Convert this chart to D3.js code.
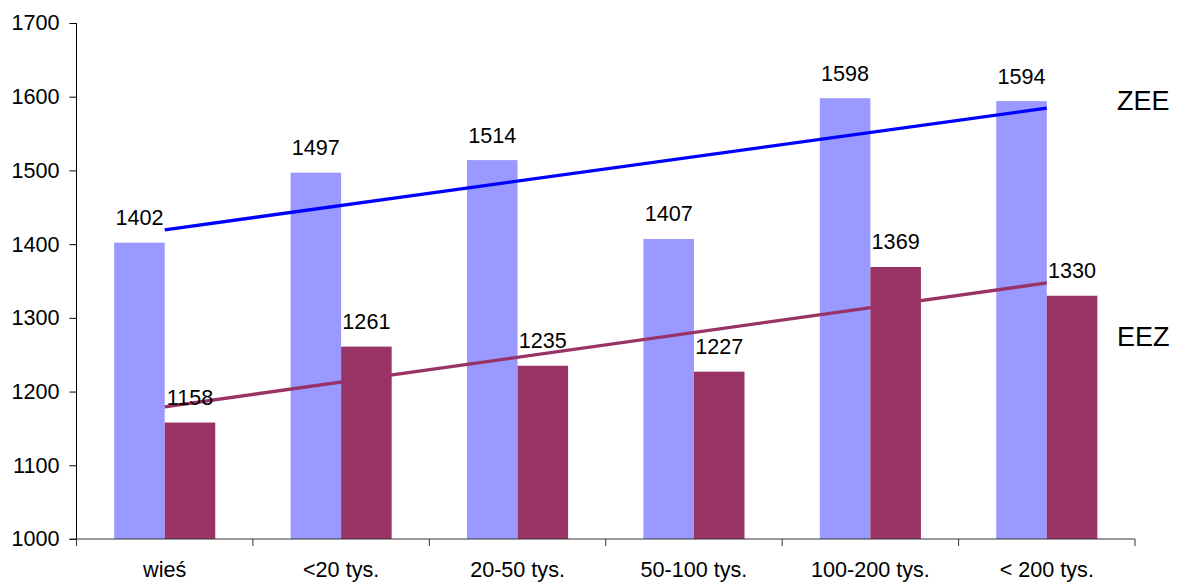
<!DOCTYPE html>
<html>
<head>
<meta charset="utf-8">
<script src="https://cdn.jsdelivr.net/npm/d3@7/dist/d3.min.js"></script>
<style>
  html, body { margin: 0; padding: 0; background: #fff; }
  svg text { font-family: "Liberation Sans", Arial, sans-serif; fill: #000; }
</style>
</head>
<body>
<svg id="chart" width="1179" height="584"></svg>
<script>
// Categories (town size) and the two series
const categories = ["wieś", "<20 tys.", "20-50 tys.", "50-100 tys.", "100-200 tys.", "< 200 tys."];
const seriesNames = ["ZEE", "EEZ"];
const zee = [1402, 1497, 1514, 1407, 1598, 1594];
const eez = [1158, 1261, 1235, 1227, 1369, 1330];
const yTicks = [1000, 1100, 1200, 1300, 1400, 1500, 1600, 1700];

const colors = { ZEE: "#9999FF", EEZ: "#993366" };
const trendColors = { ZEE: "#0000FF", EEZ: "#993366" };
const fontSize = 21.6;

const svg = d3.select("#chart");
const plotLeft = 76.5, plotRight = 1135, plotTop = 23, plotBottom = 539;

const x0 = d3.scaleBand().domain(categories).range([plotLeft, plotRight]).padding(0);
const bw = x0.bandwidth();
const x1 = d3.scaleBand().domain(seriesNames).range([bw * 0.2135, bw * 0.7865]).padding(0);
const y = d3.scaleLinear().domain([1000, 1700]).range([plotBottom, plotTop]);

const data = { ZEE: zee, EEZ: eez };

// Bars
seriesNames.forEach(s => {
  svg.append("g").selectAll("rect")
    .data(data[s])
    .join("rect")
    .attr("x", (d, i) => x0(categories[i]) + x1(s))
    .attr("y", d => y(d))
    .attr("width", x1.bandwidth())
    .attr("height", d => y(1000) - y(d))
    .attr("fill", colors[s]);
});

// Linear trend lines (least squares over category index)
function linFit(vals) {
  const xs = vals.map((_, i) => i + 1);
  const mx = d3.mean(xs), my = d3.mean(vals);
  let sxy = 0, sxx = 0;
  xs.forEach((xv, i) => { sxy += (xv - mx) * (vals[i] - my); sxx += (xv - mx) ** 2; });
  const b = sxy / sxx, a = my - b * mx;
  return xv => a + b * xv;
}
seriesNames.forEach(s => {
  const f = linFit(data[s]);
  const n = categories.length;
  svg.append("line")
    .attr("x1", x0(categories[0]) + bw / 2)
    .attr("y1", y(f(1)))
    .attr("x2", x0(categories[n - 1]) + bw / 2)
    .attr("y2", y(f(n)))
    .attr("stroke", trendColors[s])
    .attr("stroke-width", 3.3);
});

// Value labels
seriesNames.forEach(s => {
  svg.append("g").selectAll("text")
    .data(data[s])
    .join("text")
    .attr("x", (d, i) => x0(categories[i]) + x1(s) + x1.bandwidth() / 2)
    .attr("y", d => y(d) - 17.5)
    .attr("text-anchor", "middle")
    .attr("font-size", fontSize)
    .text(d => d);
});

// Y axis
const yAxis = d3.axisLeft(y).tickValues(yTicks).tickSize(7).tickPadding(10).tickFormat(d3.format("d"));
const gy = svg.append("g").attr("transform", `translate(${plotLeft},0)`).call(yAxis);
gy.select(".domain").attr("stroke", "#000").attr("d", `M0,${plotTop}V${plotBottom}`);
gy.selectAll(".tick line").attr("stroke", "#000");
gy.selectAll(".tick text").attr("font-size", fontSize).attr("font-family", "Liberation Sans, Arial, sans-serif").attr("fill", "#000");

// X axis: baseline with boundary ticks between categories
const gx = svg.append("g");
gx.append("line").attr("x1", plotLeft - 7).attr("x2", plotRight).attr("y1", plotBottom).attr("y2", plotBottom)
  .attr("stroke", "#333");
const bounds = categories.map(c => x0(c)).concat([plotRight]);
gx.selectAll("line.b").data(bounds).join("line").attr("class", "b")
  .attr("x1", d => d).attr("x2", d => d)
  .attr("y1", plotBottom).attr("y2", plotBottom + 7)
  .attr("stroke", "#333");
gx.selectAll("text").data(categories).join("text")
  .attr("x", d => x0(d) + bw / 2)
  .attr("y", 577)
  .attr("text-anchor", "middle")
  .attr("font-size", fontSize)
  .text(d => d);

// Series names next to trend lines
svg.append("text").attr("x", 1117).attr("y", 110).attr("font-size", 27).text("ZEE");
svg.append("text").attr("x", 1117).attr("y", 346).attr("font-size", 27).text("EEZ");
</script>
</body>
</html>
